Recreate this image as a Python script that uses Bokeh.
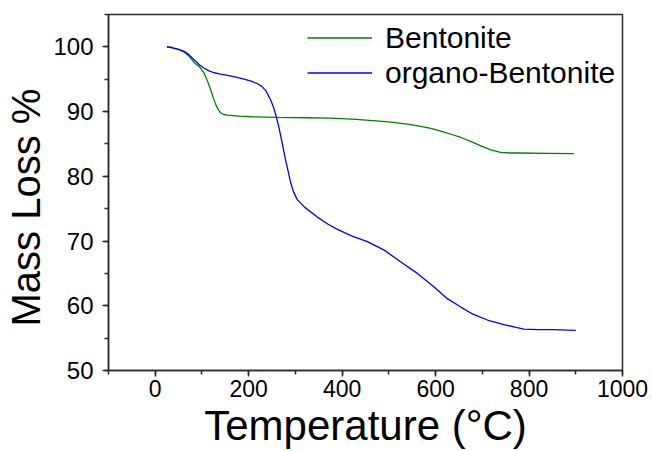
from bokeh.plotting import figure
from bokeh.models import Legend, LegendItem, SingleIntervalTicker, Range1d
from bokeh.embed import file_html
from bokeh.resources import INLINE

# ---- data ----
bent_temp = [25, 35, 50, 62, 72, 83, 95, 105, 112, 119, 125, 130, 135, 140, 147,
             155, 180, 205, 262, 320, 376, 430, 500, 540, 568, 590, 611, 633,
             654, 675, 697, 718, 739, 760, 782, 840, 896]
bent_mass = [100.0, 99.9, 99.6, 99.2, 98.6, 97.6, 96.9, 95.9, 94.7, 93.3, 92.0,
             91.0, 90.3, 89.8, 89.55, 89.45, 89.3, 89.2, 89.1, 89.05, 89.0, 88.8,
             88.4, 88.05, 87.7, 87.4, 87.0, 86.5, 86.0, 85.4, 84.7, 84.1, 83.7,
             83.6, 83.6, 83.55, 83.5]

org_temp = [25, 35, 50, 62, 72, 83, 95, 105, 115, 126, 140, 155, 175, 190, 205,
            219, 228, 237, 247, 253, 258, 264, 269, 274, 279, 285, 290, 296, 304,
            320, 347, 370, 390, 420, 454, 490, 525, 561, 597, 625, 654, 680,
            711, 746, 770, 789, 820, 853, 900]
org_mass = [100.0, 99.9, 99.6, 99.3, 98.8, 98.0, 97.2, 96.7, 96.3, 96.0, 95.8,
            95.6, 95.3, 95.0, 94.7, 94.3, 93.9, 93.2, 91.8, 90.7, 89.5, 87.8,
            86.1, 84.3, 82.5, 80.6, 79.0, 77.6, 76.4, 75.2, 73.7, 72.6, 71.8,
            70.8, 69.9, 68.6, 66.8, 65.0, 62.9, 61.1, 59.8, 58.7, 57.8, 57.1,
            56.7, 56.4, 56.3, 56.3, 56.2]

series_names = ["Bentonite", "organo-Bentonite"]
x_title = "Temperature (°C)"
y_title = "Mass Loss %"

FONT = "Liberation Sans"
AX = "#2b2b2b"

p = figure(width=652, height=451, output_backend="svg", toolbar_location=None,
           x_range=Range1d(-100, 1000), y_range=Range1d(50, 105),
           min_border_left=108, min_border_right=30, min_border_top=14,
           min_border_bottom=81)
p.background_fill_color = "white"
p.border_fill_color = "white"
p.outline_line_color = AX
p.outline_line_width = 1.5
p.xgrid.visible = False
p.ygrid.visible = False

p.xaxis.ticker = SingleIntervalTicker(interval=200, num_minor_ticks=2)
p.yaxis.ticker = SingleIntervalTicker(interval=10, num_minor_ticks=2)
for ax in (p.xaxis, p.yaxis):
    ax.axis_line_color = AX
    ax.axis_line_width = 1.5
    ax.major_tick_line_color = AX
    ax.minor_tick_line_color = AX
    ax.major_tick_line_width = 1.5
    ax.minor_tick_line_width = 1.5
    ax.major_tick_out = 6
    ax.major_tick_in = 0
    ax.minor_tick_out = 4
    ax.minor_tick_in = 0
    ax.major_label_text_font = FONT
    ax.major_label_text_color = "black"
    ax.axis_label_text_font = FONT
    ax.axis_label_text_font_style = "normal"
    ax.axis_label_text_color = "black"
p.xaxis.major_label_text_font_size = "23px"
p.yaxis.major_label_text_font_size = "24px"
p.xaxis.major_label_standoff = 3
p.yaxis.major_label_standoff = 9
p.xaxis.axis_label = x_title
p.xaxis.axis_label_text_font_size = "42px"
p.xaxis.axis_label_standoff = 2
# trailing no-break spaces nudge the centred title toward the axis bottom
p.yaxis.axis_label = y_title + "\u00a0\u00a0\u2009"
p.yaxis.axis_label_text_font_size = "40px"
p.yaxis.axis_label_standoff = 2

r1 = p.line(bent_temp, bent_mass, line_color="#008000", line_width=1.3)
r2 = p.line(org_temp, org_mass, line_color="#0000ff", line_width=1.3)

legend = Legend(items=[LegendItem(label=series_names[0], renderers=[r1]),
                       LegendItem(label=series_names[1], renderers=[r2])],
                location=(199, 280), padding=0, margin=0, spacing=0,
                glyph_width=65, glyph_height=35, label_height=35,
                label_standoff=13, label_text_font=FONT,
                label_text_font_size="30px", label_text_color="black",
                border_line_color=None, background_fill_alpha=0)
p.add_layout(legend)

open("out.html", "w").write(file_html(p, INLINE))
